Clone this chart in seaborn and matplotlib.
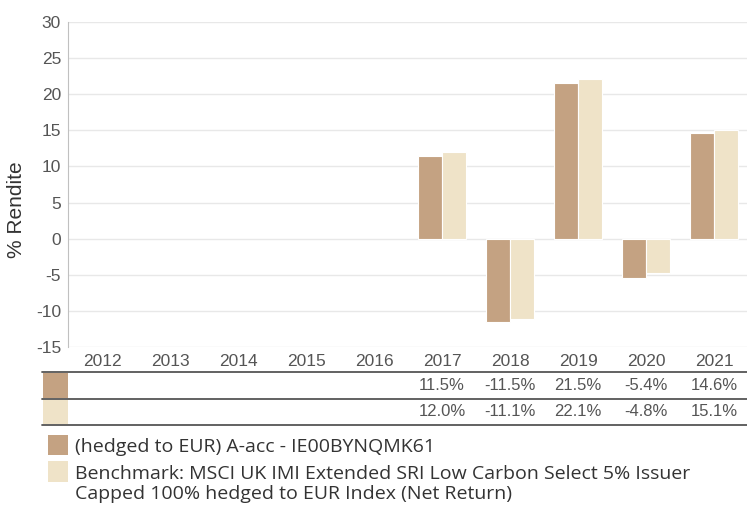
import numpy as np
import pandas as pd
import seaborn as sns
import matplotlib.pyplot as plt
from matplotlib.patches import Rectangle
from matplotlib.lines import Line2D

years = ['2012', '2013', '2014', '2015', '2016', '2017', '2018', '2019', '2020', '2021']
fund = [np.nan, np.nan, np.nan, np.nan, np.nan, 11.5, -11.5, 21.5, -5.4, 14.6]
bench = [np.nan, np.nan, np.nan, np.nan, np.nan, 12.0, -11.1, 22.1, -4.8, 15.1]
fund_name = '(hedged to EUR) A-acc - IE00BYNQMK61'
bench_name = ('Benchmark: MSCI UK IMI Extended SRI Low Carbon Select 5% Issuer\n'
              'Capped 100% hedged to EUR Index (Net Return)')
colors = ['#c4a282', '#efe3c8']

df = pd.DataFrame({
    'Anno': years * 2,
    'Rendite': fund + bench,
    'Serie': ['fund'] * len(years) + ['bench'] * len(years),
})

sns.set_style('white')
plt.rcParams['font.family'] = ['Liberation Sans', 'DejaVu Sans']
plt.rcParams['axes.unicode_minus'] = False

fig = plt.figure(figsize=(7.47, 5.05), dpi=100)
W, H = 747, 505
ax = fig.add_axes([68 / W, 1 - 347 / H, 680 / W, 325 / H])

sns.barplot(data=df, x='Anno', y='Rendite', hue='Serie', palette=colors, saturation=1,
            width=0.7, edgecolor='white', linewidth=0.8, legend=False, ax=ax, zorder=3)

ax.set_ylim(-15, 30)
ax.set_yticks(range(-15, 31, 5))
ax.set_xlim(-0.5, len(years) - 0.5)
ax.yaxis.grid(True, color='#e8e8e8', linewidth=1, zorder=0)
ax.set_axisbelow(True)
for s in ['top', 'right', 'bottom']:
    ax.spines[s].set_visible(False)
ax.spines['left'].set_color('#c0c0c0')
ax.tick_params(axis='both', length=0, labelsize=12.5, colors='#555555')
ax.tick_params(axis='x', pad=5)
ax.tick_params(axis='y', pad=5)
ax.set_xlabel('')
ax.set_ylabel('')
fig.text(17 / W, 1 - 210 / H, '% Rendite', rotation=90, ha='center', va='center',
         fontsize=15, color='#333333')

# table under the chart
def fy(y):
    return 1 - y / H

for y in [372, 399, 425]:
    fig.add_artist(Line2D([42 / W, 1], [fy(y), fy(y)], color='#555555', linewidth=1.3))
rows = [(fund, 373, 398), (bench, 400, 424)]
for (vals, y0, y1), c in zip(rows, colors):
    fig.add_artist(Rectangle((43 / W, fy(y1)), 25 / W, (y1 - y0) / H,
                             facecolor=c, edgecolor='none'))
    for i, v in enumerate(vals):
        if np.isnan(v):
            continue
        xc = (68 + 68 * (i + 0.5)) / W
        fig.text(xc, fy((y0 + y1) / 2), f'{v:.1f}%', ha='center', va='center',
                 fontsize=12, color='#555555')

# legend
leg = [(fund_name, colors[0], 435, 455, 447), (bench_name, colors[1], 461, 482, 484)]
for text, c, y0, y1, ty in leg:
    fig.add_artist(Rectangle((48 / W, fy(y1)), 20 / W, (y1 - y0) / H,
                             facecolor=c, edgecolor='none'))
    fig.text(75 / W, fy(ty), text, ha='left', va='center', fontsize=14,
             color='#333333', linespacing=1.12, family=['Open Sans', 'DejaVu Sans'])

fig.savefig('out.png', dpi=100)
